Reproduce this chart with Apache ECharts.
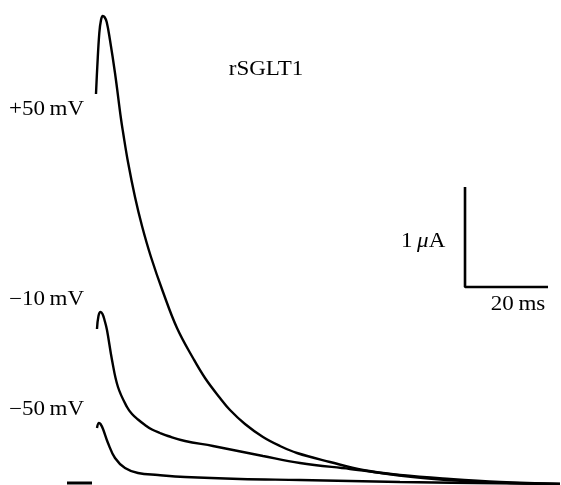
<!DOCTYPE html>
<html>
<head>
<meta charset="utf-8">
<script src="https://cdn.jsdelivr.net/npm/echarts@6/dist/echarts.min.js"></script>
<style>html,body{margin:0;padding:0;background:#fff}#c{width:561px;height:485px}</style>
</head>
<body>
<div id="c"></div>
<script>
// time in ms, current in µA
const trace50 = [[0.24,3.89],[0.55,4.16],[1.04,4.50],[1.45,4.63],[1.86,4.67],[2.29,4.66],[2.82,4.61],[3.61,4.43],[4.82,4.10],[6.27,3.64],[6.75,3.51],[7.95,3.21],[9.64,2.86],[11.33,2.57],[13.49,2.26],[16.39,1.91],[19.76,1.55],[23.61,1.25],[26.51,1.05],[30.12,0.85],[32.53,0.73],[36.14,0.59],[40.48,0.46],[44.58,0.37],[48.67,0.30],[56.63,0.21],[64.58,0.13],[76.63,0.06],[88.67,0.02],[100.00,0.00],[112.05,-0.01]];
const traceM10 = [[0.48,1.54],[0.84,1.67],[1.33,1.71],[1.81,1.69],[2.29,1.63],[2.89,1.53],[4.10,1.23],[5.54,0.96],[7.71,0.76],[8.92,0.69],[10.36,0.635],[12.05,0.58],[13.73,0.535],[15.66,0.50],[17.59,0.47],[21.69,0.42],[28.43,0.37],[40.48,0.27],[49.40,0.20],[61.45,0.14],[73.49,0.08],[85.54,0.04],[97.59,0.01],[112.05,-0.01]];
const traceM50 = [[0.48,0.55],[0.96,0.60],[1.33,0.59],[1.93,0.54],[3.13,0.40],[4.82,0.25],[7.23,0.15],[10.36,0.10],[15.18,0.08],[21.69,0.06],[34.94,0.04],[49.40,0.03],[73.49,0.01],[112.05,-0.01]];
const zeroMark = [[-6.75,0],[-0.72,0]];
const scaleBar = [[89.16,2.96],[89.16,1.96],[109.16,1.96]];
const labels = ['+50\u2009mV','\u221210\u2009mV','\u221250\u2009mV'];

const chart = echarts.init(document.getElementById('c'), null, {renderer:'canvas'});
function mk(data, smooth, w){
  return {type:'line', data:data, symbol:'none', smooth:smooth, lineStyle:{color:'#000', width:w||2.4}, animation:false, silent:true};
}
const serif = '"Liberation Serif","Times New Roman",serif';
function txt(s, x, y, align){
  return {type:'text', x:x, y:y, scaleX:1.15, style:{text:s, font:'20px '+serif, fill:'#000', textAlign:align||'left', textVerticalAlign:'middle', verticalAlign:'middle'}};
}
chart.setOption({
  animation:false,
  backgroundColor:'#fff',
  grid:{left:0,right:0,top:0,bottom:0},
  xAxis:{type:'value', min:-22.89, max:112.29, show:false},
  yAxis:{type:'value', min:-0.02, max:4.83, show:false},
  series:[
    mk(trace50, 0.4),
    mk(traceM10, 0.4),
    mk(traceM50, 0.4),
    mk(zeroMark, false, 3),
    mk(scaleBar, false, 2.6)
  ],
  graphic:[
    txt('rSGLT1', 266, 70, 'center'),
    txt(labels[0], 9, 110),
    txt(labels[1], 9, 300),
    txt(labels[2], 9, 410),
    {type:'text', x:401, y:242, scaleX:1.15, style:{text:'1\u2009{i|\u03bc}A', fontSize:20, fontFamily:serif, fill:'#000', textAlign:'left', textVerticalAlign:'middle', verticalAlign:'middle', rich:{i:{fontStyle:'italic', fontSize:20, fontFamily:serif, fill:'#000'}}}},
    txt('20\u2009ms', 518, 305, 'center')
  ]
});
</script>
</body>
</html>
